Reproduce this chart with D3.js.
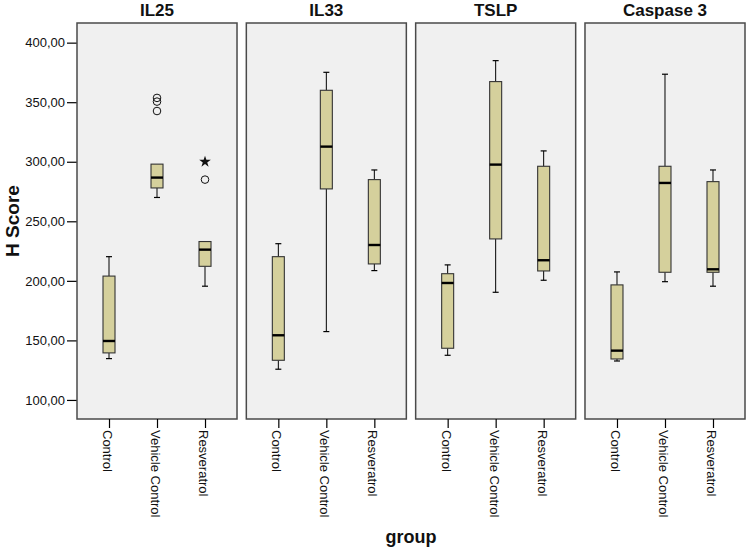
<!DOCTYPE html>
<html>
<head>
<meta charset="utf-8">
<script src="https://cdn.jsdelivr.net/npm/d3@7"></script>
<style>
  html, body { margin: 0; padding: 0; background: #ffffff; }
  svg { display: block; font-family: Arial, "Liberation Sans", sans-serif; }
</style>
</head>
<body>
<svg id="chart" width="746" height="549"></svg>
<script>
// ---------- data ----------
const panels = ["IL25", "IL33", "TSLP", "Caspase 3"];
const groups = ["Control", "Vehicle Control", "Resveratrol"];
// per panel: [Control, Vehicle Control, Resveratrol]
const whiskerLow  = [[134.7, 270.0, 195.5], [125.8, 157.4, 208.6], [137.5, 190.4, 200.5], [132.7, 199.3, 195.5]];
const q1          = [[139.5, 278.0, 212.2], [133.3, 277.2, 214.2], [143.4, 235.2, 208.3], [134.4, 207.2, 207.2]];
const median      = [[149.5, 286.7, 226.2], [154.3, 312.7, 230.1], [198.2, 297.6, 217.3], [141.4, 282.2, 209.7]];
const q3          = [[204.0, 298.0, 233.0], [220.3, 360.0, 285.0], [206.0, 367.3, 296.2], [196.6, 296.2, 283.3]];
const whiskerHigh = [[220.3, 298.0, 233.0], [231.2, 375.1, 293.1], [213.4, 384.9, 309.1], [207.5, 373.5, 293.1]];
const outlierPanel = ["IL25", "IL25", "IL25", "IL25"];
const outlierGroup = ["Vehicle Control", "Vehicle Control", "Vehicle Control", "Resveratrol"];
const outlierValue = [353.6, 350.5, 342.6, 285.0];
const extremePanel = ["IL25"];
const extremeGroup = ["Resveratrol"];
const extremeValue = [300.0];
const yTicks = [100, 150, 200, 250, 300, 350, 400];
const yTitle = "H Score";
const xTitle = "group";

// ---------- layout ----------
const svg = d3.select("#chart");
const plotLeft = 77, plotRight = 745, plotTop = 23, plotBottom = 419;
const yDomain = [84, 416.5];

const fmt = d3.formatLocale({decimal: ",", thousands: ".", grouping: [3], currency: ["", ""]}).format(".2f");

const y = d3.scaleLinear().domain(yDomain).range([plotBottom, plotTop]);
const xPanel = d3.scaleBand().domain(panels).range([plotLeft, plotRight]).paddingInner(0.055).paddingOuter(0);
const xGroup = d3.scalePoint().domain(groups).range([0, xPanel.bandwidth()]).padding(0.6667);

const boxW = 12, capW = 6;
const boxFill = "#d5d09c";

// y axis
const yAxisG = svg.append("g").attr("transform", `translate(${plotLeft},0)`)
  .call(d3.axisLeft(y).tickValues(yTicks).tickFormat(fmt).tickSize(10).tickPadding(2));
yAxisG.select(".domain").remove();
yAxisG.selectAll(".tick line").attr("stroke", "#000").attr("stroke-width", 1.2);
yAxisG.selectAll(".tick text").attr("font-size", 13).attr("fill", "#111")
  .attr("font-family", "Arial, 'Liberation Sans', sans-serif");

// y title
svg.append("text")
  .attr("transform", `translate(19,${(plotTop + plotBottom) / 2}) rotate(-90)`)
  .attr("text-anchor", "middle")
  .attr("font-size", 19).attr("font-weight", "bold").attr("fill", "#111")
  .text(yTitle);

// x title
svg.append("text")
  .attr("x", (plotLeft + plotRight) / 2).attr("y", 543)
  .attr("text-anchor", "middle")
  .attr("font-size", 18).attr("font-weight", "bold").attr("fill", "#111")
  .text(xTitle);

panels.forEach((p, pi) => {
  const g = svg.append("g").attr("transform", `translate(${xPanel(p)},0)`);
  // background
  g.append("rect")
    .attr("x", 0).attr("y", plotTop)
    .attr("width", xPanel.bandwidth()).attr("height", plotBottom - plotTop)
    .attr("fill", "#f0f0f0").attr("stroke", "#4a4a4a").attr("stroke-width", 1.5);
  // title
  g.append("text")
    .attr("x", xPanel.bandwidth() / 2).attr("y", 16)
    .attr("text-anchor", "middle")
    .attr("font-size", 17).attr("font-weight", "bold").attr("fill", "#111")
    .text(p);

  // x axis
  const xa = svg.append("g").attr("transform", `translate(${xPanel(p)},${plotBottom})`)
    .call(d3.axisBottom(xGroup).tickSize(9).tickPadding(0));
  xa.select(".domain").remove();
  xa.selectAll(".tick line").attr("stroke", "#000").attr("stroke-width", 1.2);
  xa.selectAll(".tick text")
    .attr("font-size", 13).attr("fill", "#111")
    .attr("font-family", "Arial, 'Liberation Sans', sans-serif")
    .attr("text-anchor", "start")
    .attr("transform", "translate(0,11) rotate(90)")
    .attr("x", 0).attr("y", 0).attr("dy", "0.5em");

  groups.forEach((gr, gi) => {
    const cx = xGroup(gr);
    const lo = whiskerLow[pi][gi], hi = whiskerHigh[pi][gi];
    const a = q1[pi][gi], m = median[pi][gi], b = q3[pi][gi];
    // whiskers
    if (hi > b) {
      g.append("line").attr("x1", cx).attr("x2", cx).attr("y1", y(b)).attr("y2", y(hi)).attr("stroke", "#000").attr("stroke-width", 1);
      g.append("line").attr("x1", cx - capW / 2).attr("x2", cx + capW / 2).attr("y1", y(hi)).attr("y2", y(hi)).attr("stroke", "#000").attr("stroke-width", 1.2);
    }
    if (lo < a) {
      g.append("line").attr("x1", cx).attr("x2", cx).attr("y1", y(a)).attr("y2", y(lo)).attr("stroke", "#000").attr("stroke-width", 1);
      g.append("line").attr("x1", cx - capW / 2).attr("x2", cx + capW / 2).attr("y1", y(lo)).attr("y2", y(lo)).attr("stroke", "#000").attr("stroke-width", 1.2);
    }
    // box
    g.append("rect")
      .attr("x", cx - boxW / 2).attr("y", y(b))
      .attr("width", boxW).attr("height", y(a) - y(b))
      .attr("fill", boxFill).attr("stroke", "#333").attr("stroke-width", 1.1);
    // median
    g.append("line")
      .attr("x1", cx - boxW / 2).attr("x2", cx + boxW / 2)
      .attr("y1", y(m)).attr("y2", y(m))
      .attr("stroke", "#000").attr("stroke-width", 2.4);
  });

  // outliers
  outlierValue.forEach((v, i) => {
    if (outlierPanel[i] !== p) return;
    g.append("circle").attr("cx", xGroup(outlierGroup[i])).attr("cy", y(v)).attr("r", 3.8)
      .attr("fill", "none").attr("stroke", "#111").attr("stroke-width", 1);
  });
  extremeValue.forEach((v, i) => {
    if (extremePanel[i] !== p) return;
    g.append("path")
      .attr("d", d3.symbol().type(d3.symbolStar).size(42)())
      .attr("transform", `translate(${xGroup(extremeGroup[i])},${y(v)})`)
      .attr("fill", "#111");
  });
});
</script>
</body>
</html>
